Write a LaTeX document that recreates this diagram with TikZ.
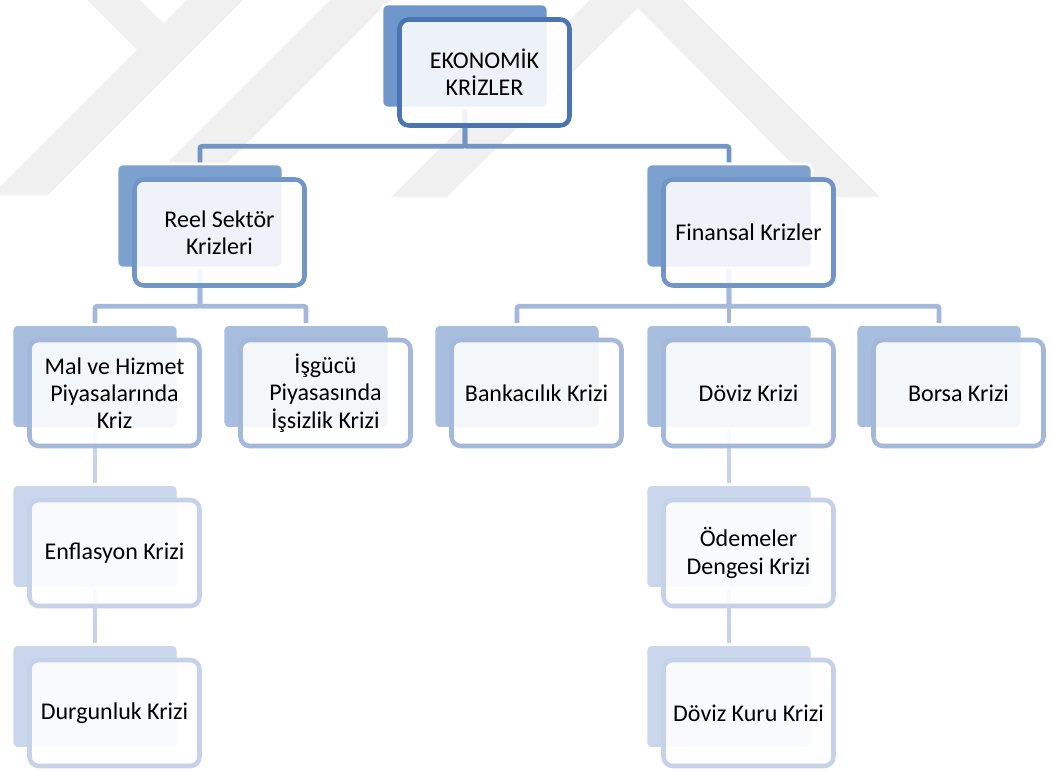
\documentclass[tikz,border=0pt]{standalone}
\usepackage{fontspec}
\setmainfont{Carlito}
\usetikzlibrary{backgrounds}

\definecolor{wmgray}{HTML}{F0F0F0}
\definecolor{fillA}{HTML}{6F97CB}
\definecolor{fillB}{HTML}{7DA1CF}
\definecolor{fillC}{HTML}{A7BEDE}
\definecolor{fillD}{HTML}{C9D6EB}
\definecolor{lineA}{HTML}{4A75B0}
\definecolor{lineB}{HTML}{7295C8}
\definecolor{lineC}{HTML}{A3B8DA}
\definecolor{lineD}{HTML}{C5D2E8}

\tikzset{
  backbox/.style={rectangle, rounded corners=4.5pt, draw=white, line width=2pt,
    minimum width=124.5pt, minimum height=78pt, inner sep=0pt},
  frontbox/.style={rectangle, rounded corners=7pt, line width=3.4pt, fill=white,
    fill opacity=0.88, text opacity=1, minimum width=127.5pt, minimum height=79.5pt,
    align=center, inner sep=2pt, font=\fontsize{18}{20.5}\selectfont},
  linkA/.style={draw=lineB, line width=3.6pt, rounded corners=1.5pt},
  linkB/.style={draw=lineC, line width=3.6pt, rounded corners=1.5pt},
  linkC/.style={draw=lineD, line width=3.6pt}
}

\begin{document}
\begin{tikzpicture}[x=0.75pt, y=-0.75pt]
\useasboundingbox (0,0) rectangle (1052,771);

% back shapes
\node[backbox, fill=fillA] (ekoB) at (465,56) {};
\node[backbox, fill=fillB] (reelB) at (200,216) {};
\node[backbox, fill=fillB] (finB) at (729,216) {};
\node[backbox, fill=fillC] (malB) at (95,376.5) {};
\node[backbox, fill=fillC] (isgB) at (306,376.5) {};
\node[backbox, fill=fillC] (bankB) at (517,376.5) {};
\node[backbox, fill=fillC] (dovizB) at (729,376.5) {};
\node[backbox, fill=fillC] (borsaB) at (939,376.5) {};
\node[backbox, fill=fillD] (enfB) at (95,536.5) {};
\node[backbox, fill=fillD] (durgB) at (95,696.5) {};
\node[backbox, fill=fillD] (odemB) at (729,536.5) {};
\node[backbox, fill=fillD] (kurB) at (729,696.5) {};

% front shapes
\node[frontbox, draw=lineA] (eko) at (484.5,72.5) {EKONOMİK\\KRİZLER};
\node[frontbox, draw=lineB] (reel) at (219.5,232.5) {Reel Sektör\\Krizleri};
\node[frontbox, draw=lineB] (fin) at (748.5,232.5) {Finansal Krizler};
\node[frontbox, draw=lineC] (mal) at (114.5,393) {Mal ve Hizmet\\Piyasalarında\\Kriz};
\node[frontbox, draw=lineC] (isg) at (325.5,393) {İşgücü\\Piyasasında\\İşsizlik Krizi};
\node[frontbox, draw=lineC] (bank) at (536.5,393) {Bankacılık Krizi};
\node[frontbox, draw=lineC] (doviz) at (748.5,393) {Döviz Krizi};
\node[frontbox, draw=lineC] (borsa) at (958.5,393) {Borsa Krizi};
\node[frontbox, draw=lineD] (enf) at (114.5,553) {Enflasyon Krizi};
\node[frontbox, draw=lineD] (durg) at (114.5,713) {Durgunluk Krizi};
\node[frontbox, draw=lineD] (odem) at (748.5,553) {Ödemeler\\Dengesi Krizi};
\node[frontbox, draw=lineD] (kur) at (748.5,713) {Döviz Kuru Krizi};

\begin{pgfonlayer}{background}
% watermark
\fill[wmgray] (87,0) -- (140,0) -- (163.5,23.5) -- (187,0) -- (243,0) -- (48,195)
  -- (0,195) -- (0,187) -- (137,50) -- cycle;
\fill[wmgray] (330,0) -- (390,0) -- (195,195) -- (135,195) -- cycle;
\fill[wmgray] (391,197) -- (590,0) -- (683,0) -- (880,197) -- (825,197)
  -- (638,8) -- (447,197) -- cycle;

% connectors
\draw[linkA] (ekoB.south) -- ++(0,37) -| (reelB.north);
\draw[linkA] (ekoB.south) -- ++(0,37) -| (finB.north);
\draw[linkB] (reelB.south) -- ++(0,37) -| (malB.north);
\draw[linkB] (reelB.south) -- ++(0,37) -| (isgB.north);
\draw[linkB] (finB.south) -- ++(0,37) -| (bankB.north);
\draw[linkB] (finB.south) -- (dovizB.north);
\draw[linkB] (finB.south) -- ++(0,37) -| (borsaB.north);
\draw[linkC] (malB.south) -- (enfB.north);
\draw[linkC] (enfB.south) -- (durgB.north);
\draw[linkC] (dovizB.south) -- (odemB.north);
\draw[linkC] (odemB.south) -- (kurB.north);
\end{pgfonlayer}
\end{tikzpicture}
\end{document}
